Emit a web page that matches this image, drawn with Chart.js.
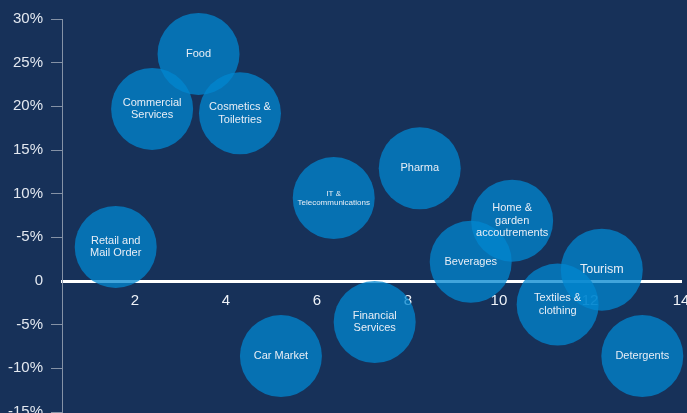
<!DOCTYPE html>
<html>
<head>
<meta charset="utf-8">
<script src="https://cdn.jsdelivr.net/npm/chart.js@4/dist/chart.umd.min.js"></script>
<style>
    html, body { margin: 0; padding: 0; background: #173159; overflow: hidden; }
    #wrap { width: 687px; height: 413px; position: relative; }
</style>
</head>
<body>
<div id="wrap"><canvas id="bubbleChart"></canvas></div>
<script>
// sectors, x = position on the horizontal axis, y = growth in %
const sectors = [
    'Food', 'Commercial\nServices', 'Cosmetics &\nToiletries', 'IT &\nTelecommunications',
    'Pharma', 'Home &\ngarden\naccoutrements', 'Beverages', 'Tourism',
    'Textiles &\nclothing', 'Detergents', 'Car Market', 'Financial\nServices', 'Retail and\nMail Order'
];
const xValues = [3.40, 2.38, 4.31, 6.37, 8.26, 10.29, 9.38, 12.26, 11.29, 13.15, 5.21, 7.27, 1.58];
const yValues = [26.0, 19.7, 19.2, 9.5, 12.9, 6.9, 2.2, 1.3, -2.7, -8.6, -8.6, -4.7, 3.9];

const xTicks = [2, 4, 6, 8, 10, 12, 14];
const yTickValues = [30, 25, 20, 15, 10, 5, 0, -5, -10, -15];
const yTickLabels = ['30%', '25%', '20%', '15%', '10%', '-5%', '0', '-5%', '-10%', '-15%'];

const FONT = 'Helvetica, Arial, "Liberation Sans", sans-serif';
const axisGray = '#8592a6';

// a few labels are drawn at a different size
const labelSizes = { 'Tourism': 12.5, 'IT &\nTelecommunications': 8 };

const bubbleLabels = {
    id: 'bubbleLabels',
    afterDatasetsDraw(chart) {
        const ctx = chart.ctx;
        const meta = chart.getDatasetMeta(0);
        ctx.save();
        ctx.fillStyle = '#e8eef6';
        ctx.textAlign = 'center';
        ctx.textBaseline = 'middle';
        meta.data.forEach((pt, i) => {
            const name = sectors[i];
            const size = labelSizes[name] || 11;
            const lines = name.split('\n');
            const lh = size * 1.15;
            ctx.font = size + 'px ' + FONT;
            const startY = pt.y - (lines.length - 1) * lh / 2;
            lines.forEach((ln, j) => ctx.fillText(ln, pt.x, startY + j * lh));
        });
        ctx.restore();
    }
};

new Chart(document.getElementById('bubbleChart'), {
    type: 'bubble',
    data: {
        datasets: [
            {
                data: xValues.map((x, i) => ({ x: x, y: yValues[i] })),
                radius: 41,
                backgroundColor: 'rgba(2, 135, 208, 0.75)',
                borderWidth: 0,
                hoverBorderWidth: 0,
                clip: false,
            },
        ]
    },
    options: {
        responsive: true,
        maintainAspectRatio: false,
        animation: false,
        layout: {
            autoPadding: false,
            padding: { top: 19, right: 6, bottom: 1, left: 0 }
        },
        plugins: {
            legend: { display: false },
            tooltip: { enabled: false },
        },
        scales: {
            x: {
                type: 'linear',
                min: 0.4,
                max: 14,
                position: { y: 0 },
                afterBuildTicks: (axis) => { axis.ticks = xTicks.map(v => ({ value: v })); },
                afterFit: (axis) => { axis.paddingRight = 6; axis.paddingLeft = 0; },
                grid: { display: false, drawTicks: true, tickLength: 8 },
                border: { display: true, color: '#ffffff', width: 3 },
                ticks: {
                    color: '#eef2f8',
                    padding: 3,
                    font: { family: FONT, size: 15 },
                }
            },
            y: {
                type: 'linear',
                min: -15,
                max: 30,
                afterBuildTicks: (axis) => { axis.ticks = yTickValues.map(v => ({ value: v })); },
                afterFit: (axis) => { axis.width = 62; axis.paddingTop = 0; axis.paddingBottom = 1; },
                grid: {
                    drawOnChartArea: false,
                    drawTicks: true,
                    tickLength: 11,
                    tickColor: (c) => (c.tick && c.tick.value === 0 ? 'rgba(0,0,0,0)' : axisGray),
                    color: axisGray,
                },
                border: { display: true, color: axisGray, width: 1 },
                ticks: {
                    color: '#e3e8f0',
                    padding: 8,
                    font: { family: FONT, size: 15 },
                    callback: (v) => yTickLabels[yTickValues.indexOf(v)],
                }
            }
        }
    },
    plugins: [bubbleLabels]
});
</script>
</body>
</html>
